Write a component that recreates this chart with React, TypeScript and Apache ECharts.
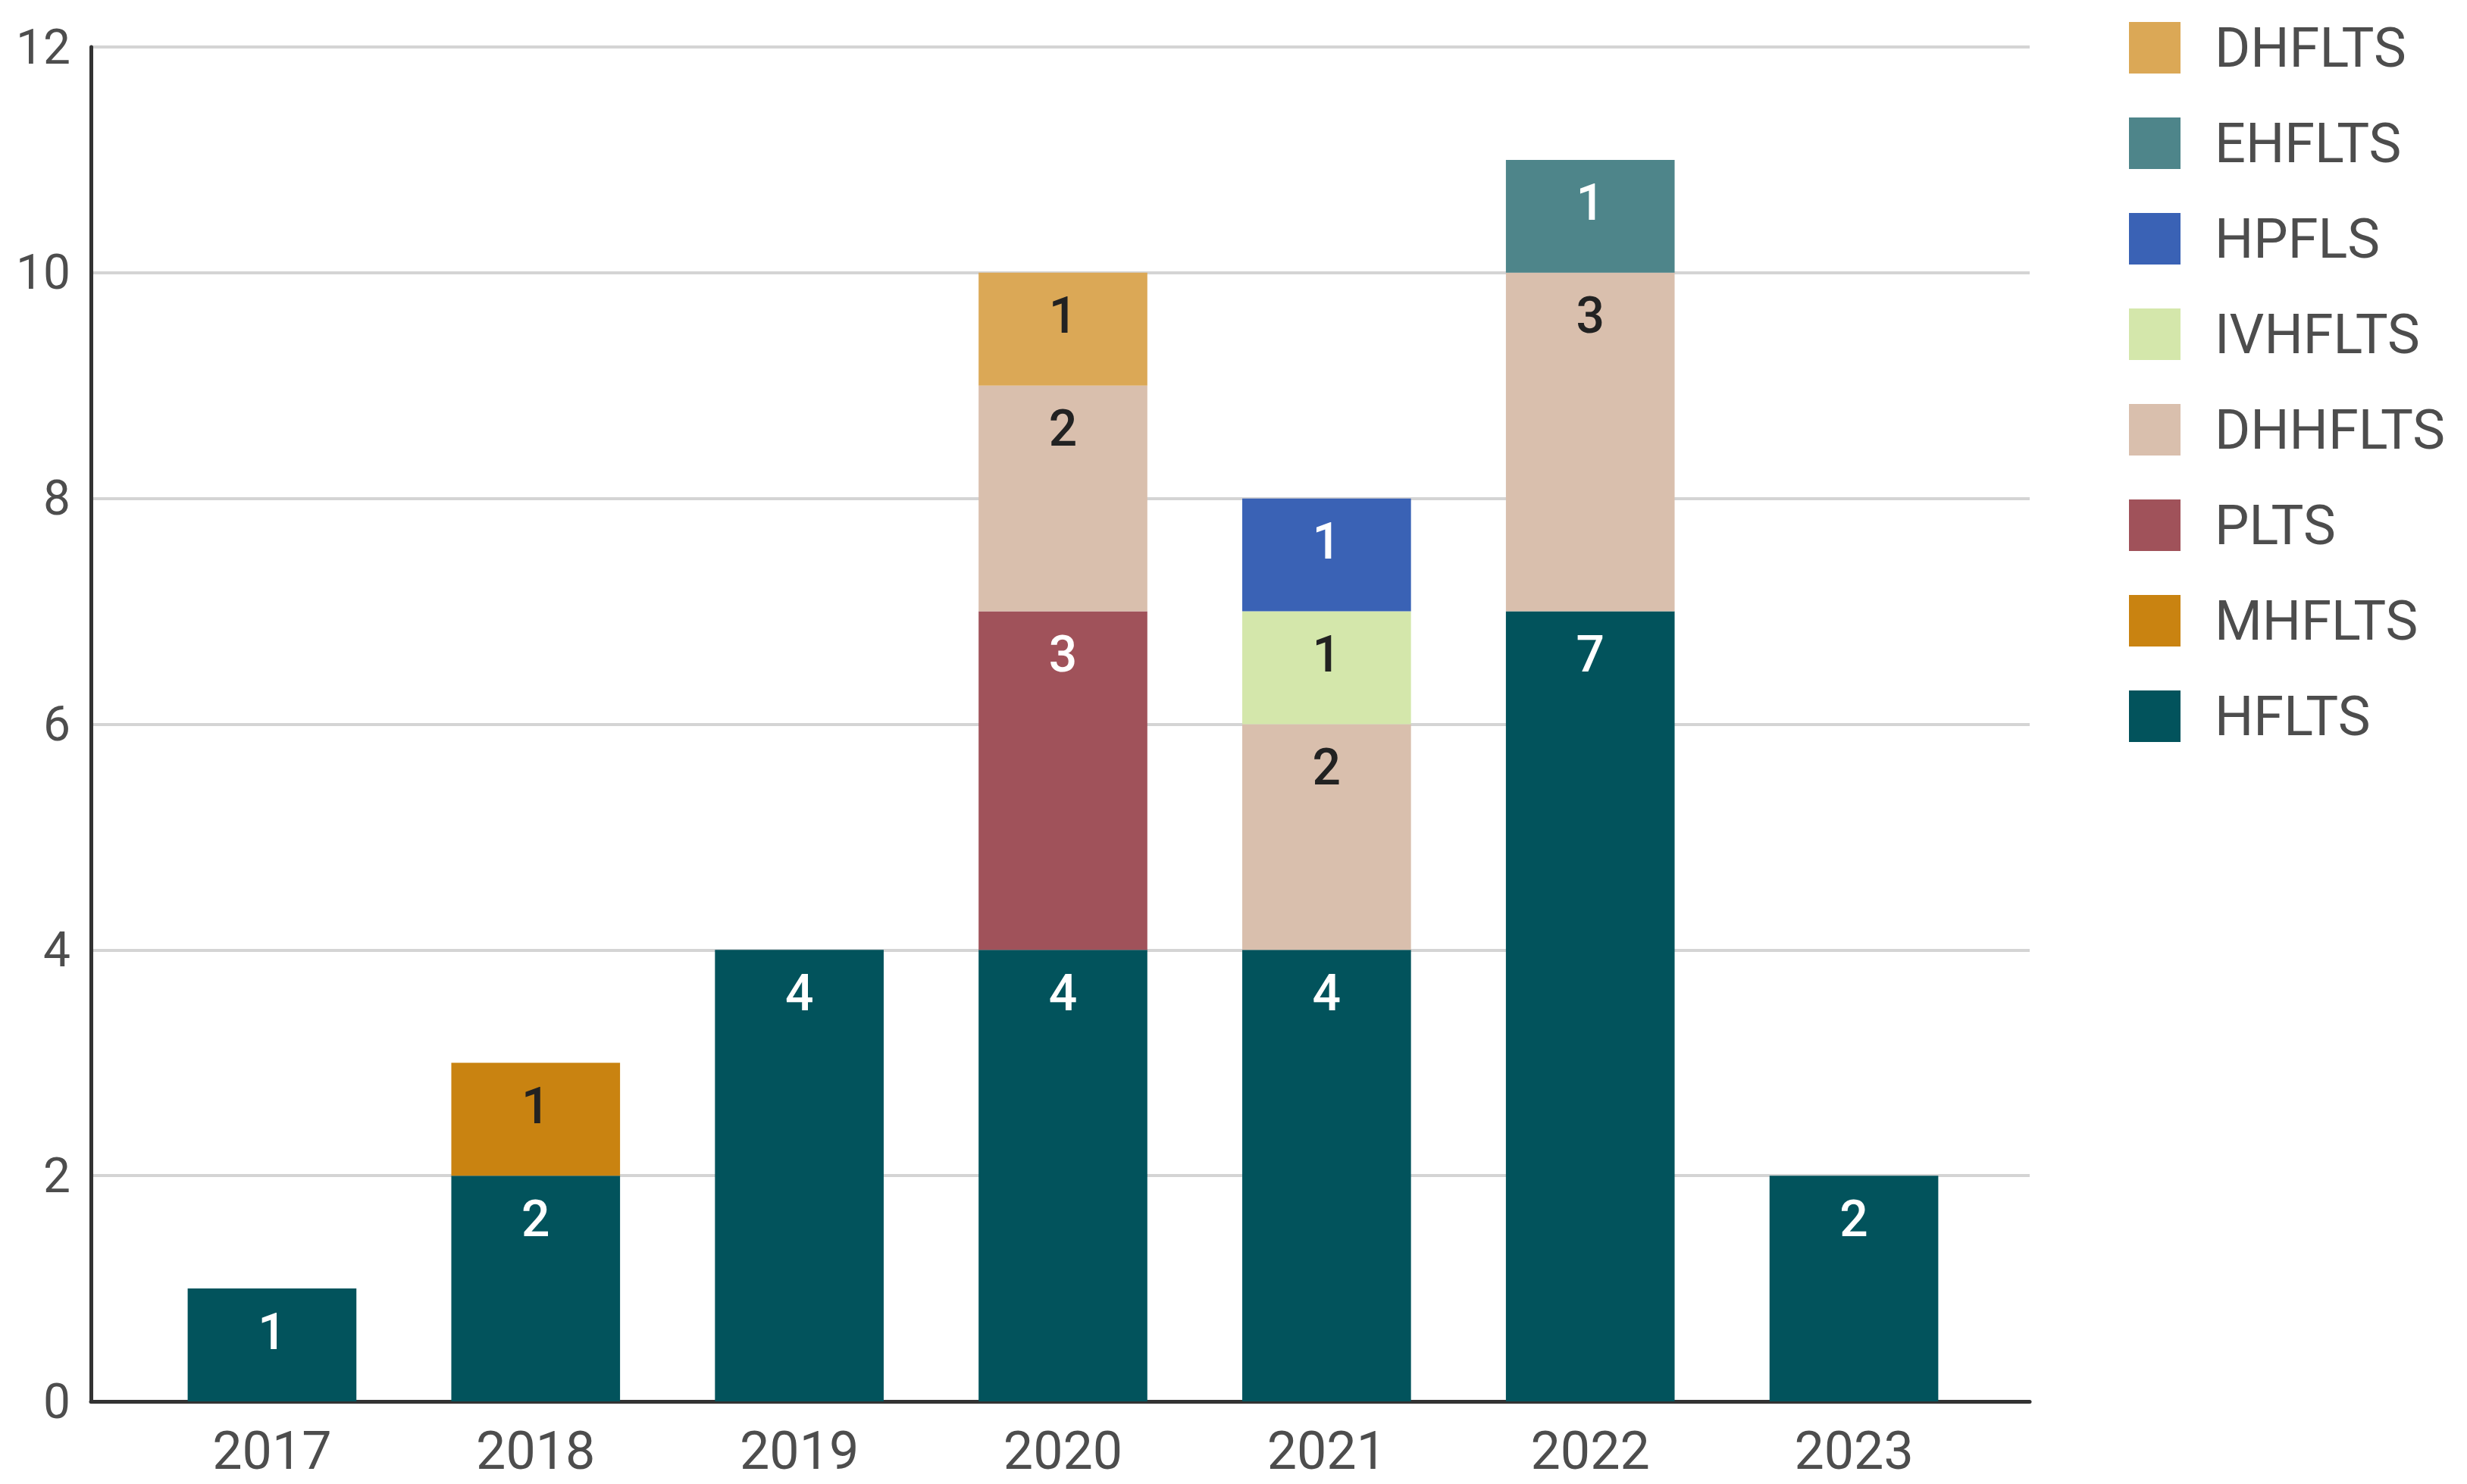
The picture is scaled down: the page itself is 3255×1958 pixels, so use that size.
import React, { useEffect, useRef } from "react";
import * as echarts from "echarts";

const years = ["2017", "2018", "2019", "2020", "2021", "2022", "2023"];
const yTicks = { min: 0, max: 12, interval: 2 };

// stacked bottom -> top
const HFLTS = [1, 2, 4, 4, 4, 7, 2];
const MHFLTS = [null, 1, null, null, null, null, null];
const PLTS = [null, null, null, 3, null, null, null];
const DHHFLTS = [null, null, null, 2, 2, 3, null];
const IVHFLTS = [null, null, null, null, 1, null, null];
const HPFLS = [null, null, null, null, 1, null, null];
const EHFLTS = [null, null, null, null, null, 1, null];
const DHFLTS = [null, null, null, 1, null, null, null];

const seriesDefs = [
  { name: "HFLTS", data: HFLTS, color: "#02535C", label: "#ffffff" },
  { name: "MHFLTS", data: MHFLTS, color: "#C98311", label: "#222222" },
  { name: "PLTS", data: PLTS, color: "#A0525A", label: "#ffffff" },
  { name: "DHHFLTS", data: DHHFLTS, color: "#D9BFAD", label: "#222222" },
  { name: "IVHFLTS", data: IVHFLTS, color: "#D4E7AB", label: "#222222" },
  { name: "HPFLS", data: HPFLS, color: "#3A62B5", label: "#ffffff" },
  { name: "EHFLTS", data: EHFLTS, color: "#4E858A", label: "#ffffff" },
  { name: "DHFLTS", data: DHFLTS, color: "#DBA856", label: "#222222" },
];

export default function App() {
  const ref = useRef<HTMLDivElement>(null);
  useEffect(() => {
    if (!ref.current) return;
    const chart = echarts.init(ref.current, null, { renderer: "svg" });
    const font = "Roboto";
    chart.setOption({
      animation: false,
      backgroundColor: "#ffffff",
      grid: [
        { left: 120, right: 577, top: 62, bottom: 109 },
        { left: 185, right: 635, top: 62, bottom: 109 },
      ],
      legend: {
        orient: "vertical",
        left: 2804,
        top: 22,
        itemWidth: 68,
        itemHeight: 68,
        itemGap: 54,
        icon: "rect",
        data: seriesDefs.map((s) => s.name).reverse(),
        textStyle: {
          fontFamily: font,
          fontSize: 72,
          color: "#4d4d4d",
          lineHeight: 68,
          padding: [0, 0, 0, 40],
        },
      },
      xAxis: [
        {
          gridIndex: 0,
          type: "value",
          min: 0,
          max: 1,
          axisLine: { show: true, lineStyle: { color: "#333333", width: 5 } },
          axisTick: { show: false },
          axisLabel: { show: false },
          splitLine: { show: false },
        },
        {
          gridIndex: 1,
          type: "category",
          data: years,
          axisLine: { show: false },
          axisTick: { show: false },
          axisLabel: {
            margin: 30,
            fontFamily: font,
            fontSize: 70,
            color: "#4d4d4d",
          },
        },
      ],
      yAxis: [
        {
          gridIndex: 0,
          type: "value",
          min: yTicks.min,
          max: yTicks.max,
          interval: yTicks.interval,
          axisLine: { show: true, lineStyle: { color: "#333333", width: 5 } },
          axisTick: { show: false },
          axisLabel: {
            margin: 27,
            fontFamily: font,
            fontSize: 64,
            color: "#4d4d4d",
          },
          splitLine: { show: true, lineStyle: { color: "#d4d4d4", width: 4 } },
        },
        {
          gridIndex: 1,
          type: "value",
          min: yTicks.min,
          max: yTicks.max,
          interval: yTicks.interval,
          show: false,
        },
      ],
      series: seriesDefs.map((s) => ({
        name: s.name,
        type: "bar",
        stack: "total",
        xAxisIndex: 1,
        yAxisIndex: 1,
        barWidth: "64%",
        data: s.data,
        itemStyle: { color: s.color },
        label: {
          show: true,
          position: "insideTop",
          distance: 24,
          fontFamily: font,
          fontSize: 66,
          fontWeight: 500,
          color: s.label,
        },
      })),
    });
    return () => chart.dispose();
  }, []);
  return (
    <div
      ref={ref}
      style={{ position: "fixed", left: 0, top: 0, width: 3255, height: 1958 }}
    />
  );
}
